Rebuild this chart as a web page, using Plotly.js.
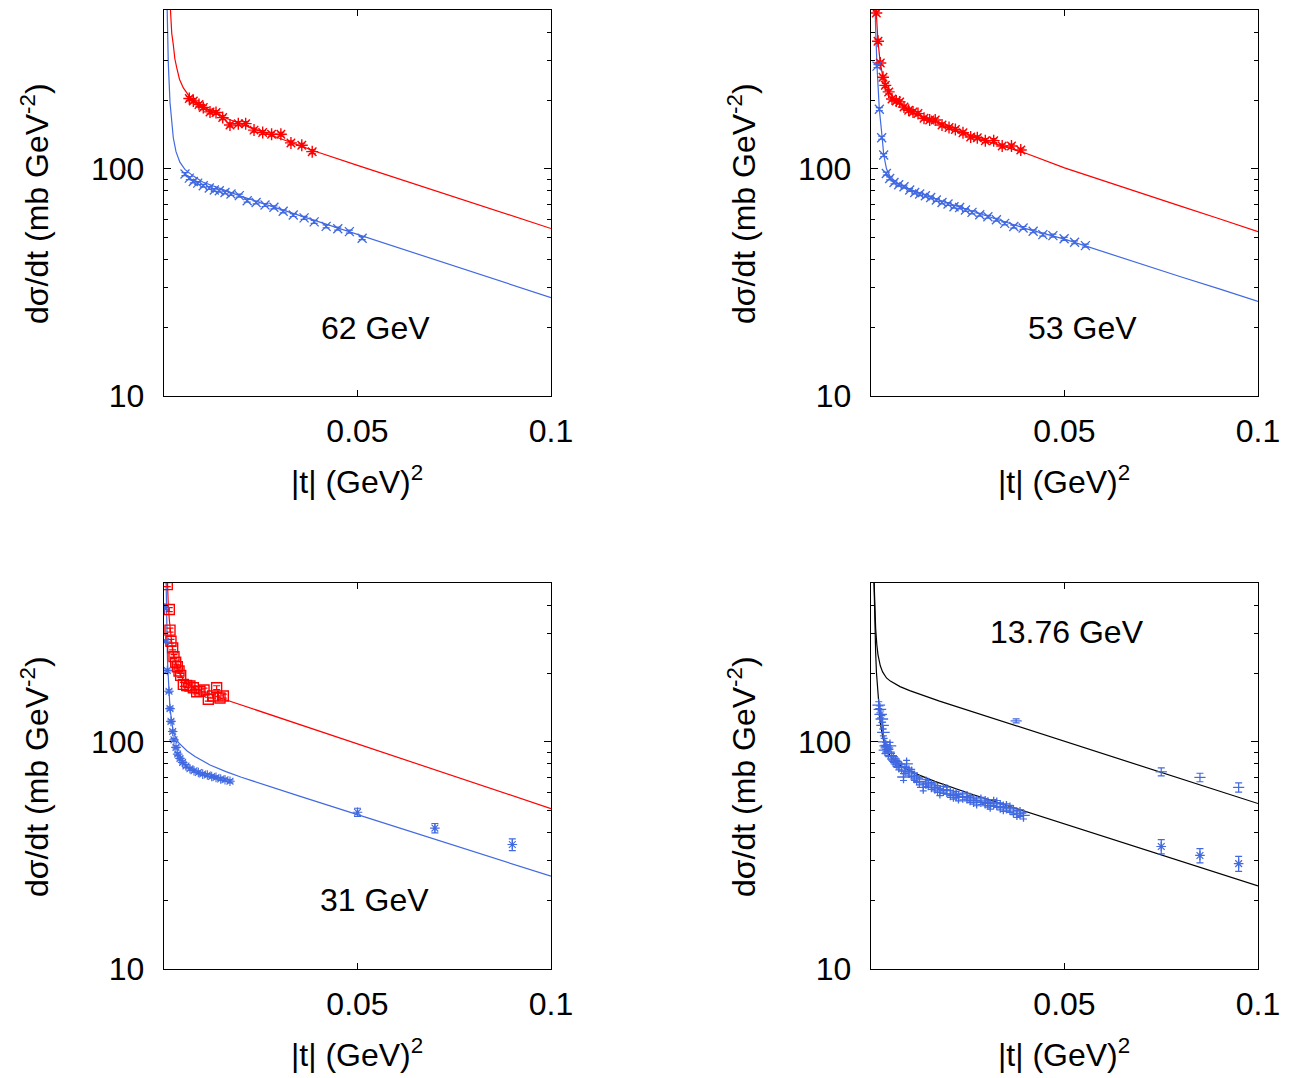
<!DOCTYPE html>
<html>
<head>
<meta charset="utf-8">
<script src="https://cdn.plot.ly/plotly-3.0.1.min.js"></script>
<style>html,body{margin:0;padding:0;background:#fff;}#chart{width:1289px;height:1078px;}</style>
</head>
<body>
<div id="chart"></div>
<script>
// ---------- 62 GeV ----------
const t62R = [0.00654,0.00757,0.00904,0.01015,0.01189,0.01344,0.01517,0.01705,0.0192,0.0211,0.02326,0.0255,0.0278,0.0302,0.0328,0.0356,0.0383];
const v62R = [204,199,192,186,178,177,168,156,158,158,148,144.5,142,142,130,127,119];
const t62B = [0.00543,0.00654,0.00757,0.00871,0.01015,0.0117,0.0130,0.01429,0.01576,0.01731,0.01946,0.0215,0.0238,0.0261,0.0284,0.0308,0.0334,0.0362,0.0388,0.0419,0.0449,0.0479,0.0512];
const v62B = [94.8,91.0,88.0,86.5,84.2,82.3,80.7,80.1,78.7,77.5,76.2,72.4,71.1,69.3,67.7,65.0,62.6,60.8,58.4,55.8,54.5,52.9,49.5];
const t62FitR = [0.0012,0.0014,0.0016,0.002,0.0024,0.0028,0.0033,0.004,0.005,0.0065,0.008,0.01,0.015,0.02,0.03,0.04,0.05,0.06,0.07,0.08,0.09,0.1];
const v62FitR = [700,580,490,395,352,305,278,248,227,209,197,188,170,157,136,118,103.5,91,80,70.5,62,54.6];
const t62FitB = [0.0006,0.0007,0.00085,0.0011,0.00155,0.002,0.0024,0.0031,0.0041,0.0054,0.0075,0.01,0.02,0.03,0.04,0.05,0.06,0.07,0.08,0.09,0.1];
const v62FitB = [764,587,429,294,196,155,137,119,107,99.4,93.1,87.5,75.6,66.5,58.5,51.5,45.3,39.8,35.0,30.8,27.1];

// ---------- 53 GeV ----------
const t53R = [0.00137,0.00181,0.0024,0.0031,0.0037,0.00457,0.00543,0.00654,0.0074,0.00853,0.00973,0.01085,0.01214,0.0137,0.01516,0.0166,0.01835,0.02016,0.0218,0.02377,0.02576,0.02747,0.02954,0.0317,0.0339,0.0363,0.0387];
const v53R = [485,364,292,253,233,218,203,199,197,187,181,178,175,167,164,164,156,152,149,144,138,137,133,133,126,126,121];
const t53B = [0.00155,0.00215,0.00276,0.00328,0.00396,0.00482,0.00594,0.00715,0.00853,0.0100,0.0113,0.01258,0.01405,0.01542,0.01688,0.01835,0.0199,0.02145,0.0229,0.0244,0.0261,0.0281,0.0302,0.0324,0.03455,0.0369,0.0393,0.0419,0.0444,0.0470,0.0499,0.0526,0.0554];
const v53B = [283,183,137,115,95.3,90.7,87.1,85.1,83.4,80.7,78.7,77.4,76.1,74.8,72.9,71.1,70.0,68.1,67.6,65.9,64.3,62.8,61.5,59.7,57.5,55.7,54.9,53.1,51.3,50.8,49.2,47.5,45.9];
const t53FitR = [0.0011,0.00125,0.00137,0.0018,0.0024,0.0031,0.0045,0.0065,0.01,0.015,0.02,0.03,0.04,0.05,0.0638,0.07,0.08,0.09,0.1];
const v53FitR = [680,560,485,364,292,253,218,199,180,164,152,132,117,101,84.2,78,68.5,60.3,52.9];
const t53FitB = [0.0008,0.0009,0.001,0.0012,0.00155,0.0018,0.00215,0.0028,0.0033,0.004,0.005,0.007,0.01,0.015,0.02,0.03,0.04,0.05,0.0638,0.07,0.08,0.09,0.1];
const v53FitB = [802,654,548,410,283,233,183,142,115,100,92,86,81,75.5,70.5,62,54.5,49,41,38,33.5,29.6,26.1];

// ---------- 31 GeV ----------
const t31R = [0.00085,0.00137,0.00155,0.0018,0.00224,0.00258,0.00302,0.00344,0.00388,0.00431,0.005,0.00586,0.0067,0.00757,0.00844,0.0093,0.01034,0.01145,0.01258,0.0136,0.01447,0.01533];
const v31R = [492,382,310,277,259,237,224,214,205,196,179,177,176,173,166,167,169,154,159,173,156,159];
const t31B = [0.0002,0.0004,0.00085,0.00129,0.00155,0.0018,0.00224,0.00258,0.0031,0.00353,0.00413,0.00482,0.00568,0.0067,0.00775,0.00887,0.0100,0.0112,0.01232,0.01344,0.01465,0.01576,0.01705];
const v31B = [388,277,206,167,140,123,111,102,94.5,88.3,84.5,81.2,78.2,76.1,74.6,73.3,72.1,71.4,70.4,69.7,68.6,68.1,67.0];
const t31Bhi = [0.05,0.07,0.09];
const v31Bhi = [49.0,41.7,35.3];
const e31Bhi = [2.0,2.0,2.1];
const t31FitR = [0.0007,0.00085,0.0011,0.0014,0.0018,0.0022,0.0026,0.003,0.0035,0.004,0.005,0.007,0.01,0.0155,0.02,0.03,0.04,0.05,0.06,0.07,0.08,0.09,0.1];
const v31FitR = [650,492,400,340,285,255,236,222,210,200,188,175,166,154,145.2,127.3,111.7,97.9,85.9,75.3,66.0,57.9,50.8];
const t31FitB = [0.0004,0.0005,0.0007,0.0009,0.0011,0.00155,0.0024,0.0037,0.0059,0.008,0.0119,0.016,0.02,0.0248,0.035,0.05,0.07,0.09,0.1];
const v31FitB = [700,500,300,230,194,140,110,99.3,91.3,86.1,79.1,73.9,69.8,65.6,57.7,47.8,37.2,29.0,25.6];

// ---------- 13.76 GeV ----------
const t13 = [0.0020,0.0023,0.0025,0.0028,0.0030,0.0032,0.0034,0.0036,0.0038,0.0041,0.0045,0.0049,0.0053,0.0058,0.0063,0.0067,0.0072,0.0079,0.0084,0.0088,0.0092,0.0098,0.0105,0.0112,0.0118,0.0125,0.0135,0.0142,0.0148,0.0156,0.0165,0.0172,0.0178,0.0187,0.0196,0.0205,0.0213,0.0220,0.0226,0.0237,0.0248,0.0256,0.0265,0.0273,0.0284,0.0295,0.0302,0.0308,0.0317,0.0325,0.0334,0.0342,0.0350,0.0359,0.0368,0.0377,0.0385,0.0394];
const v13 = [145,139,132,126,118,110,100,92,96,94,90,96,86,84,82,80,78,77,70,75,80,74,73,70,68.6,67,63,66,65.2,64,63,62,60,61.5,61,59,58,58.5,57,57.5,57,56,55.1,54.2,55,54.2,53.5,52.4,53.8,53.3,52,51.2,51.5,50.7,49.5,48.2,48.5,47.4];
const t13Up = [0.0375,0.075,0.085,0.095];
const v13Up = [123.6,73.8,69.7,63.0];
const e13Up = [2.5,3.0,3.0,3.0];
const t13Lo = [0.075,0.085,0.095];
const v13Lo = [34.6,31.6,29.1];
const e13Lo = [2.5,2.3,2.2];
const t13FitUp = [0.0007,0.0008,0.001,0.0012,0.0015,0.0018,0.0024,0.003,0.004,0.005,0.0075,0.01,0.0177,0.025,0.0333,0.0411,0.05,0.06,0.075,0.09,0.1];
const v13FitUp = [570,480,374,316,268,242,216,203,191,185,175,168,151,137.7,124.1,112.4,100.5,88.5,73.3,60.7,53.5];
const t13FitLo = [0.0007,0.0008,0.001,0.0012,0.0014,0.0018,0.0024,0.0031,0.004,0.0052,0.0079,0.0115,0.0165,0.0251,0.0333,0.04,0.05,0.06,0.075,0.09,0.1];
const v13FitLo = [571,456,321,248,203,160,121,103.5,92.7,85.3,77.7,72.4,67,59.5,53.7,49.3,43.5,38.4,31.8,26.3,23.2];

const labels = ['62 GeV','53 GeV','31 GeV','13.76 GeV'];
const yTickVals = [10,100];
const yTickText = ['10','100'];
const yMinorVals = [20,30,40,50,60,70,80,90,200,300,400];
const xTickVals = [0.05,0.1];
const xTickText = ['0.05','0.1'];

const RED = '#ff0000', BLUE = '#4169e1', BLACK = '#000000';
const FONT = 'Liberation Sans, Arial, Helvetica, sans-serif';
const FS = 32;

function line(x, y, color, ax) {
  return {x: x, y: y, mode: 'lines', type: 'scatter', xaxis: 'x' + ax, yaxis: 'y' + ax,
    line: {color: color, width: 1.2}, hoverinfo: 'skip', showlegend: false, cliponaxis: true};
}
function pts(x, y, color, symbol, size, ax, err, lw) {
  const tr = {x: x, y: y, mode: 'markers', type: 'scatter', xaxis: 'x' + ax, yaxis: 'y' + ax,
    marker: {symbol: symbol, size: size, color: color, line: {color: color, width: lw || 1.2}},
    showlegend: false, cliponaxis: true};
  if (err !== undefined) {
    if (Array.isArray(err)) tr.error_y = {type: 'data', array: err, visible: true, color: color, thickness: 1.2, width: 3.5};
    else tr.error_y = {type: 'percent', value: err, visible: true, color: color, thickness: 1.2, width: 3.5};
  }
  return tr;
}

const data = [
  line(t62FitR, v62FitR, RED, ''), line(t62FitB, v62FitB, BLUE, ''),
  pts(t62R, v62R, RED, 'asterisk-open', 10, '', 2.0, 1.4),
  pts(t62B, v62B, BLUE, 'x-thin-open', 9, '', 1.5, 1.3),

  line(t53FitR, v53FitR, RED, '2'), line(t53FitB, v53FitB, BLUE, '2'),
  pts(t53R, v53R, RED, 'asterisk-open', 10, '2', 2.0, 1.4),
  pts(t53B, v53B, BLUE, 'x-thin-open', 9, '2', 1.5, 1.3),

  line(t31FitR, v31FitR, RED, '3'), line(t31FitB, v31FitB, BLUE, '3'),
  pts(t31R, v31R, RED, 'square-open', 10, '3', 2.0, 1.4),
  pts(t31B, v31B, BLUE, 'asterisk-open', 8, '3', 1.5, 1.1),
  pts(t31Bhi, v31Bhi, BLUE, 'asterisk-open', 8, '3', e31Bhi, 1.1),

  line(t13FitUp, v13FitUp, BLACK, '4'), line(t13FitLo, v13FitLo, BLACK, '4'),
  pts(t13, v13, BLUE, 'cross-thin-open', 9, '4', 3.5, 1.3),
  pts(t13Up, v13Up, BLUE, 'line-ew-open', 8, '4', e13Up, 1.2),
  pts(t13Lo, v13Lo, BLUE, 'asterisk-open', 8, '4', e13Lo, 1.2)
];

const W = 1289, H = 1078;
const colX = [[164/W, 551/W], [871/W, 1258/W]];
const rowY = [[1 - 396/H, 1 - 10/H], [1 - 969/H, 1 - 583/H]];

const layout = {
  width: W, height: H,
  margin: {l: 0, r: 0, t: 0, b: 0},
  paper_bgcolor: '#fff', plot_bgcolor: '#fff',
  font: {family: FONT, size: FS, color: '#000'},
  showlegend: false,
  annotations: []
};

const panels = [
  {ax: '', c: 0, r: 0, lab: labels[0], lx: 375, ly: 328},
  {ax: '2', c: 1, r: 0, lab: labels[1], lx: 1082, ly: 328},
  {ax: '3', c: 0, r: 1, lab: labels[2], lx: 374, ly: 900},
  {ax: '4', c: 1, r: 1, lab: labels[3], lx: 1067, ly: 632}
];

panels.forEach(p => {
  const xa = 'xaxis' + p.ax, ya = 'yaxis' + p.ax;
  layout[xa] = {
    domain: colX[p.c], anchor: 'y' + p.ax, range: [0, 0.1],
    tickmode: 'array', tickvals: xTickVals, ticktext: xTickText,
    ticks: 'inside', ticklen: 6, tickwidth: 1, tickcolor: '#000',
    showline: true, linecolor: '#000', linewidth: 1.3, mirror: 'ticks',
    showgrid: false, zeroline: false, fixedrange: true,
    tickfont: {family: FONT, size: FS, color: '#000'}, ticklabelstandoff: 6
  };
  layout[ya] = {
    domain: rowY[p.r], anchor: 'x' + p.ax, type: 'log', range: [1, Math.log10(500)],
    tickmode: 'array', tickvals: yTickVals, ticktext: yTickText,
    ticks: 'inside', ticklen: 7, tickwidth: 1, tickcolor: '#000',
    minor: {tickmode: 'array', tickvals: yMinorVals, ticks: 'inside', ticklen: 4, tickwidth: 1, tickcolor: '#000', showgrid: false},
    showline: true, linecolor: '#000', linewidth: 1.3, mirror: 'ticks',
    showgrid: false, zeroline: false, fixedrange: true,
    tickfont: {family: FONT, size: FS, color: '#000'}, ticklabelstandoff: 12
  };
  const x0 = p.c === 0 ? 0 : 707;
  const y0 = p.r === 0 ? 0 : 573;
  layout.annotations.push({
    text: 'dσ/dt (mb GeV<sup>-2</sup>)', xref: 'paper', yref: 'paper',
    x: (35 + x0) / W, y: 1 - (204 + y0) / H, textangle: -90,
    xanchor: 'center', yanchor: 'middle', showarrow: false,
    font: {family: FONT, size: FS, color: '#000'}
  });
  layout.annotations.push({
    text: '|t| (GeV)<sup>2</sup>', xref: 'paper', yref: 'paper',
    x: (357 + x0) / W, y: 1 - (480 + y0) / H,
    xanchor: 'center', yanchor: 'middle', showarrow: false,
    font: {family: FONT, size: FS, color: '#000'}
  });
  layout.annotations.push({
    text: p.lab, xref: 'paper', yref: 'paper',
    x: p.lx / W, y: 1 - p.ly / H,
    xanchor: 'center', yanchor: 'middle', showarrow: false,
    font: {family: FONT, size: FS, color: '#000'}
  });
});

Plotly.newPlot('chart', data, layout, {displayModeBar: false, staticPlot: true});
</script>
</body>
</html>
